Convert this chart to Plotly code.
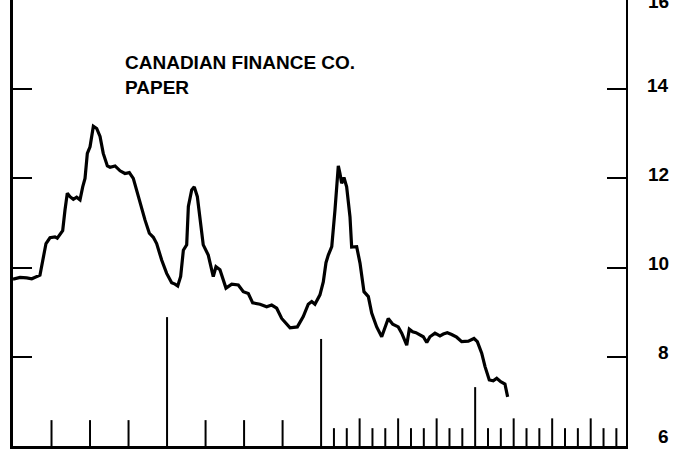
import plotly.graph_objects as go

# time in months from the left edge of the chart (12 months per year segment)
months = [0.0, 0.55, 1.07, 1.46, 2.10, 2.36, 2.57, 2.88, 3.27, 3.45, 3.66, 3.87, 4.05, 4.23,
          4.44, 4.70, 4.96, 5.22, 5.43, 5.61, 5.79, 6.00, 6.26, 6.52, 6.78, 7.03, 7.35, 7.56,
          7.95, 8.34, 8.72, 9.06, 9.37, 9.76, 10.03, 10.28, 10.62, 10.93, 11.19, 11.58, 11.97,
          12.36, 12.62, 12.83, 13.06, 13.27, 13.53, 13.66, 13.92, 14.12, 14.36, 14.57, 14.82,
          15.21, 15.60, 15.81, 16.12, 16.59, 17.04, 17.55, 17.94, 18.33, 18.67, 19.24, 19.76,
          20.15, 20.54, 20.93, 21.58, 22.15, 22.61, 23.00, 23.27, 23.52, 23.91, 24.17, 24.38,
          24.56, 24.83, 25.08, 25.34, 25.47, 25.60, 25.78, 25.99, 26.25, 26.38, 26.77, 27.03,
          27.34, 27.68, 27.94, 28.33, 28.72, 29.05, 29.23, 29.58, 30.01, 30.28, 30.67, 30.87,
          31.13, 31.39, 31.70, 31.96, 32.23, 32.48, 32.87, 33.26, 33.52, 33.83, 34.17, 34.56,
          34.95, 35.47, 35.91, 36.17, 36.51, 36.77, 37.10, 37.41, 37.68, 37.99, 38.32, 38.53]

rates = [9.74, 9.78, 9.77, 9.75, 9.83, 10.24, 10.54, 10.67, 10.69, 10.66, 10.75, 10.83, 11.29, 11.67,
         11.59, 11.53, 11.58, 11.52, 11.81, 12.00, 12.56, 12.71, 13.17, 13.12, 12.94, 12.56, 12.28, 12.25,
         12.28, 12.17, 12.11, 12.13, 12.00, 11.59, 11.37, 11.07, 10.77, 10.68, 10.54, 10.17, 9.87,
         9.66, 9.63, 9.59, 9.80, 10.39, 10.51, 11.37, 11.74, 11.81, 11.59, 11.14, 10.51,
         10.28, 9.80, 10.02, 9.95, 9.54, 9.63, 9.61, 9.46, 9.42, 9.21, 9.18, 9.12,
         9.16, 9.09, 8.86, 8.65, 8.67, 8.90, 9.18, 9.24, 9.18, 9.39, 9.68, 10.11,
         10.28, 10.47, 11.29, 12.28, 12.11, 11.89, 12.02, 11.81, 11.14, 10.46, 10.47, 10.10,
         9.46, 9.35, 8.98, 8.67, 8.45, 8.75, 8.86, 8.73, 8.67, 8.53, 8.26, 8.62,
         8.56, 8.54, 8.50, 8.45, 8.32, 8.45, 8.53, 8.47, 8.51, 8.54, 8.50, 8.44,
         8.34, 8.35, 8.41, 8.34, 8.08, 7.78, 7.48, 7.46, 7.52, 7.44, 7.39, 7.10]

# bottom tick marks
year_ticks = [12, 24, 36]
year_tick_tops = [8.89, 8.40, 7.32]
early_quarter_ticks = [3, 6, 9, 15, 18, 21]
late_quarter_ticks = [27, 30, 33, 39, 42, 45]
late_month_ticks = [25, 26, 28, 29, 31, 32, 34, 35, 37, 38, 40, 41, 43, 44, 46, 47]

y_tick_vals = [8, 10, 12, 14, 16]
right_label_vals = [6, 8, 10, 12, 14, 16]
right_label_text = ["6", "8", "10", "12", "14", "16"]

title_lines = ["CANADIAN FINANCE CO.", "PAPER"]

fig = go.Figure()
fig.add_trace(go.Scatter(x=months, y=rates, mode="lines",
                         line=dict(color="#000000", width=3.2), hoverinfo="skip",
                         showlegend=False))
# invisible trace so the right-hand axis is drawn
fig.add_trace(go.Scatter(x=[0], y=[6], yaxis="y2", mode="markers",
                         marker=dict(opacity=0), showlegend=False, hoverinfo="skip"))

shapes = []
def vtick(x, top):
    shapes.append(dict(type="line", xref="x", yref="y", x0=x, x1=x, y0=6, y1=top,
                       line=dict(color="#000000", width=2)))

for x, top in zip(year_ticks, year_tick_tops):
    vtick(x, top)
for x in early_quarter_ticks:
    vtick(x, 6.58)
for x in late_quarter_ticks:
    vtick(x, 6.62)
for x in late_month_ticks:
    vtick(x, 6.40)

label_shift = {6: 10, 16: -1}
annotations = []
for v, t in zip(right_label_vals, right_label_text):
    annotations.append(dict(xref="paper", yref="y", x=1, y=v, text="<b>" + t + "</b>",
                            showarrow=False, xanchor="right", yanchor="middle", xshift=45,
                            yshift=label_shift.get(v, 4),
                            font=dict(family="Liberation Sans", size=19, color="#000000")))

annotations.append(dict(xref="paper", yref="paper", x=(123 - 13) / 613, y=1 - 50 / 446,
                        xanchor="left", yanchor="top", align="left", showarrow=False,
                        text="<b>" + "<br>".join(title_lines) + "</b>",
                        font=dict(family="Liberation Sans", size=19, color="#000000")))

fig.update_layout(
    width=679, height=458,
    margin=dict(l=13, r=53, t=0, b=12),
    paper_bgcolor="white", plot_bgcolor="white",
    xaxis=dict(range=[0, 47.75], showgrid=False, zeroline=False, showticklabels=False,
               ticks="", showline=True, linecolor="#000000", linewidth=2.5),
    yaxis=dict(range=[6, 16], showgrid=False, zeroline=False, showticklabels=False,
               tickvals=y_tick_vals, ticks="inside", ticklen=19, tickwidth=2,
               tickcolor="#000000", showline=True, linecolor="#000000", linewidth=2.5),
    yaxis2=dict(range=[6, 16], overlaying="y", side="right", showgrid=False, zeroline=False,
                showticklabels=False, tickvals=y_tick_vals[:-1], ticks="inside", ticklen=19,
                tickwidth=2, tickcolor="#000000", showline=True, linecolor="#000000",
                linewidth=2),
    shapes=shapes,
    annotations=annotations,
    showlegend=False,
)

fig.write_html("out.html", config={"displayModeBar": False},
               post_script="document.body.style.margin='0';document.body.style.padding='0';")
